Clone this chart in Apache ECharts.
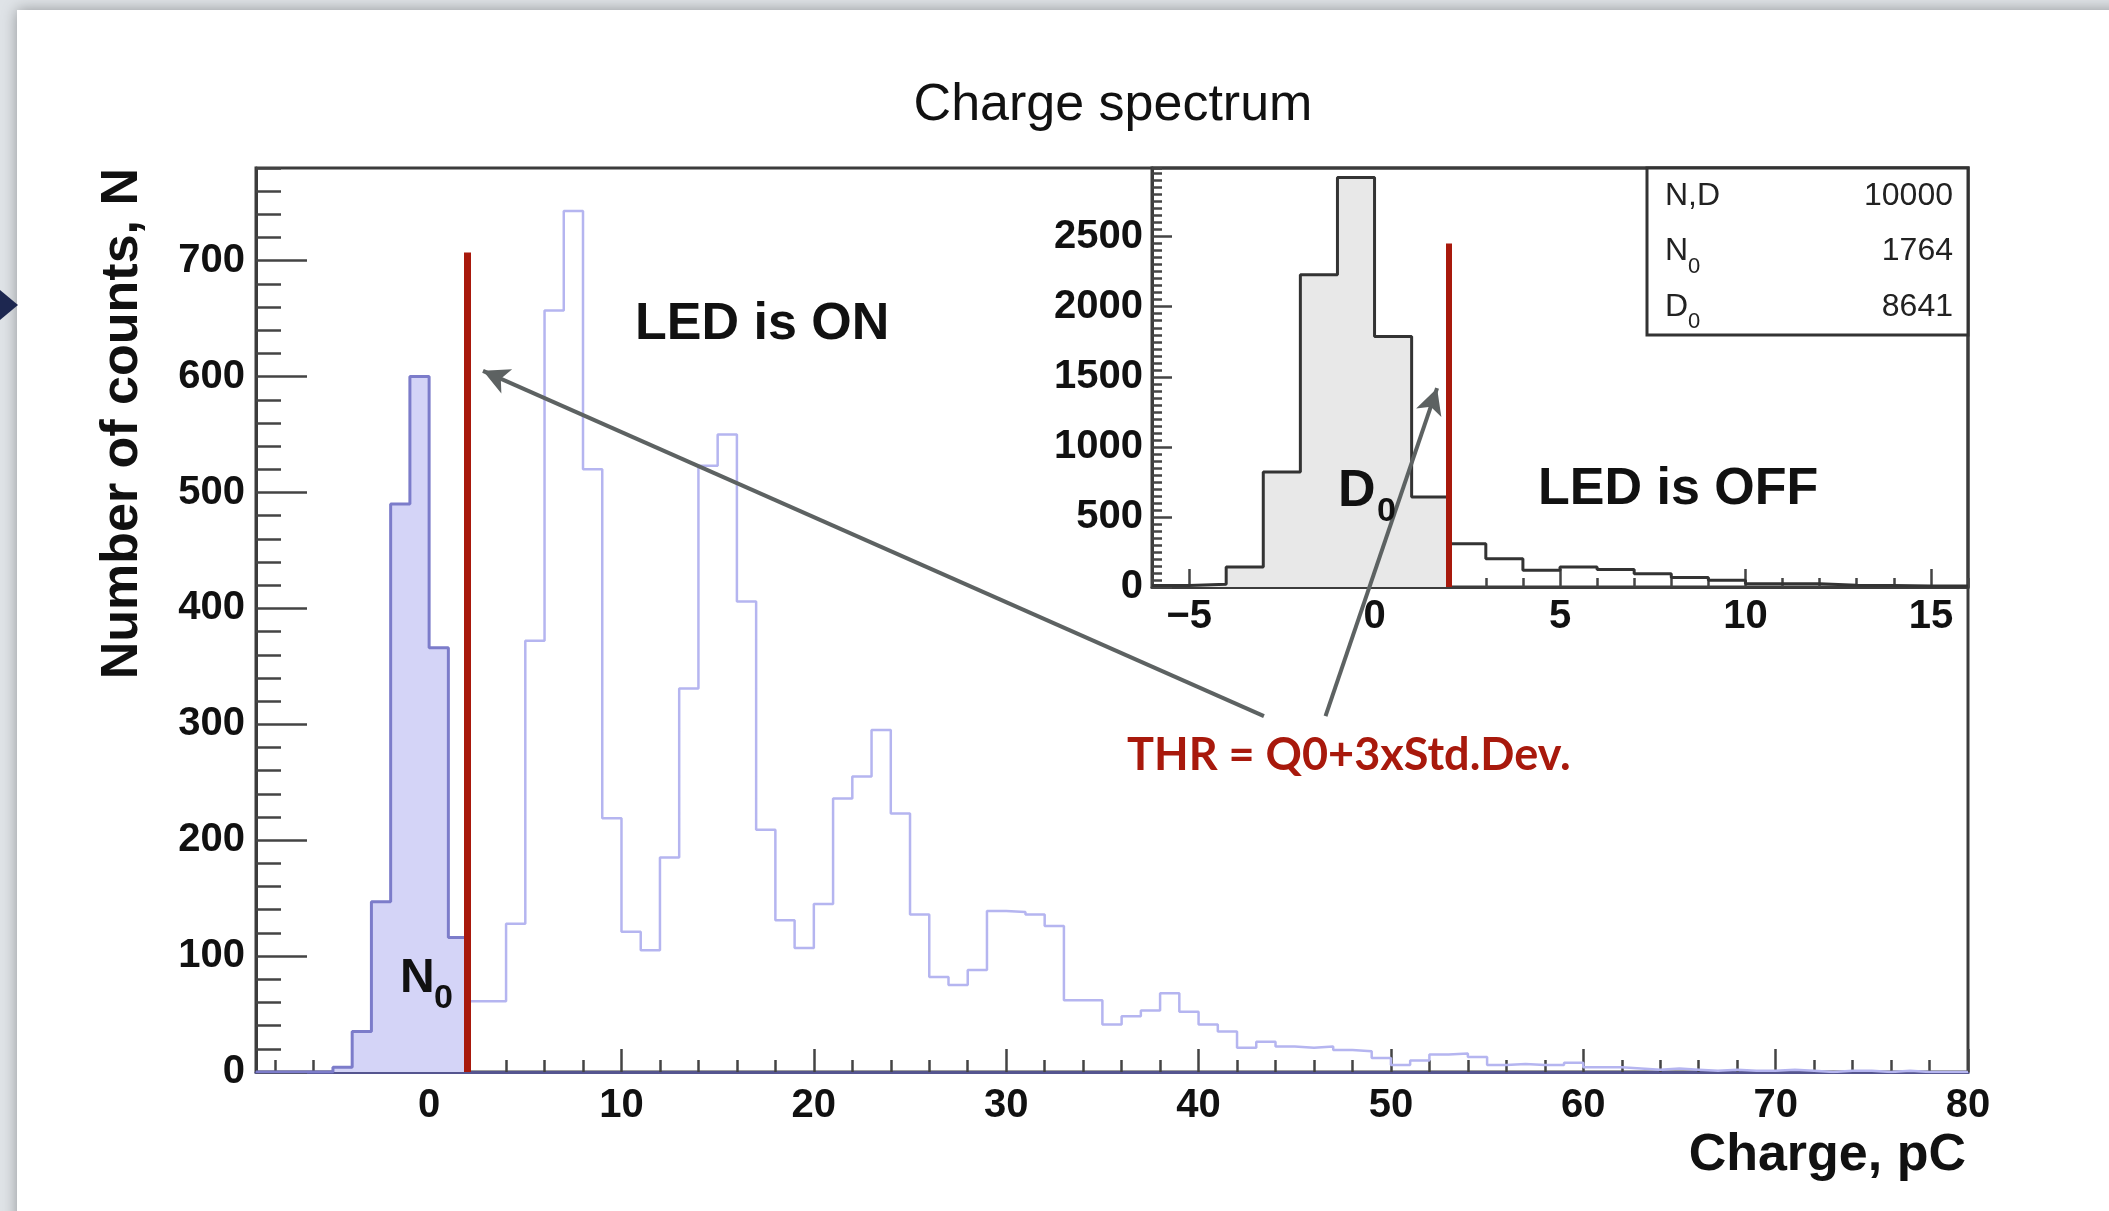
<!DOCTYPE html>
<html>
<head>
    <meta charset="utf-8">
    <title>Charge spectrum</title>
    <script src="https://cdn.jsdelivr.net/npm/echarts@6/dist/echarts.min.js"></script>
    <style>
        body { margin: 0; background: #dfe3e7; }
    </style>
</head>
<body>
    <div id="main" style="width: 2109px;height:1211px;"></div>
    <script type="text/javascript">
        var myChart = echarts.init(document.getElementById('main'));

// LED ON spectrum, 1 pC bins, first bin starts at -9 pC
var onStart = -9;
var onCounts = [
    0, 0, 0, 0, 4, 35, 147, 490, 600, 366, 116,          // -9 .. 1
    61, 61, 128, 372, 657, 743, 520, 219,                // 2 .. 9
    121, 105, 185, 331, 523, 550, 406, 209, 131, 107,    // 10 .. 19
    145, 236, 255, 295, 223, 136, 82, 75, 88, 139,       // 20 .. 29
    138, 136, 126, 62, 62, 41, 48, 53, 68, 52,           // 30 .. 39
    41, 35, 21, 26, 22, 21, 22, 19, 18, 12,              // 40 .. 49
    6, 10, 15, 16, 13, 6, 7, 6, 6, 8,                    // 50 .. 59
    4, 4, 3, 2, 3, 2, 1, 2, 1, 1,                        // 60 .. 69
    2, 1, 0, 1, 1, 0, 1, 0, 0, 0                         // 70 .. 79
];

// LED OFF spectrum (inset), first bin starts at -6 pC
var offStart = -6;
var offCounts = [10, 20, 143, 820, 2229, 2923, 1787, 642, 309, 202, 119,
                 143, 124, 95, 67, 48, 24, 24, 12, 10, 8, 8];

var threshold = 2;        // THR, pC
var thrOnTop = 707;       // height of red line, main plot
var thrOffTop = 2452;     // height of red line, inset

var mainXLabels = [0, 10, 20, 30, 40, 50, 60, 70, 80];
var mainXMinor = [-8, -6, -4, -2, 0, 2, 4, 6, 8, 10, 12, 14, 16, 18, 20, 22, 24, 26, 28, 30,
                  32, 34, 36, 38, 40, 42, 44, 46, 48, 50, 52, 54, 56, 58, 60, 62, 64, 66, 68, 70,
                  72, 74, 76, 78, 80];
var mainYLabels = [0, 100, 200, 300, 400, 500, 600, 700];
var insetXLabels = [-5, 0, 5, 10, 15];
var insetYLabels = [0, 500, 1000, 1500, 2000, 2500];

var statNames = ['N,D', 'N', 'D'];
var statSubs = ['', '0', '0'];
var statValues = ['10000', '1764', '8641'];

// arrows from the THR note, in main plot coordinates [x, y]
var arrowTails = [[43.4, 307], [46.6, 307]];
var arrowHeads = [[2.8, 605], [52.4, 590]];

function steps(start, counts) {
    var d = counts.map(function (v, i) { return [start + i, v]; });
    d.push([start + counts.length, counts[counts.length - 1]]);
    return d;
}

var onFill = steps(onStart, onCounts.slice(0, threshold - onStart));
var onRest = steps(threshold, onCounts.slice(threshold - onStart));
var offFill = steps(offStart, offCounts.slice(0, threshold - offStart));
var offRest = steps(threshold, offCounts.slice(threshold - offStart));

var font = "'Liberation Sans', Arial, sans-serif";
var red = '#a8190c';
var frame = '#3c3c3c';

function minus(v) { return String(v).replace('-', '\u2212'); }

function majorAxis(extra) {
    var a = {
        type: 'value',
        splitLine: { show: false },
        axisLine: { show: true, onZero: false, lineStyle: { color: frame, width: 3 } },
        axisTick: { show: true, inside: true, lineStyle: { color: '#444', width: 2.5 } },
        axisLabel: {
            color: '#111', fontFamily: font, fontWeight: 'bold', fontSize: 40,
            showMaxLabel: true, formatter: minus
        }
    };
    return echarts.util.merge(a, extra, true);
}

function minorAxis(extra) {
    var a = {
        type: 'value',
        splitLine: { show: false },
        axisLine: { show: false, onZero: false },
        axisLabel: { show: false },
        axisTick: { show: true, inside: true, lineStyle: { color: '#444', width: 2.5 } }
    };
    return echarts.util.merge(a, extra, true);
}

var texts = [
    { x: 1113, y: 106, text: 'Charge spectrum', size: 52, weight: 'normal', align: 'center' },
    { x: 635, y: 325, text: 'LED is ON', size: 52, weight: 'bold', align: 'left' },
    { x: 1538, y: 490, text: 'LED is OFF', size: 52, weight: 'bold', align: 'left' },
    { x: 1338, y: 492, text: 'D', size: 52, weight: 'bold', align: 'left' },
    { x: 1377, y: 512, text: '0', size: 34, weight: 'bold', align: 'left' },
    { x: 400, y: 979, text: 'N', size: 48, weight: 'bold', align: 'left' },
    { x: 434, y: 999, text: '0', size: 34, weight: 'bold', align: 'left' },
    { x: 1966, y: 1156, text: 'Charge, pC', size: 52, weight: 'bold', align: 'right' }
];

var graphics = [
    { type: 'rect', z: -10, shape: { x: 17, y: 10, width: 2120, height: 1230 },
      style: { fill: '#fff', shadowBlur: 14, shadowColor: 'rgba(0,0,0,0.35)' } },
    { type: 'polygon', shape: { points: [[0, 290], [18, 305], [0, 320]] }, style: { fill: '#1d2750' } },
    { type: 'text', x: 123, y: 168, rotation: Math.PI / 2,
      style: { text: 'Number of counts, N', font: 'bold 52px ' + font, fill: '#111',
               align: 'right', verticalAlign: 'middle' } },
    { type: 'text', x: 1127, y: 755,
      style: { text: 'THR = Q0+3xStd.Dev.', font: "bold 45px Lato, 'Open Sans', sans-serif",
               fill: red, align: 'left', verticalAlign: 'middle' } },
    { type: 'rect', z: 10, shape: { x: 1647, y: 168, width: 321, height: 167 },
      style: { fill: '#fff', stroke: '#333', lineWidth: 3 } }
];

texts.forEach(function (t) {
    graphics.push({ type: 'text', x: t.x, y: t.y, z: 11,
        style: { text: t.text, font: t.weight + ' ' + t.size + 'px ' + font, fill: '#111',
                 align: t.align, verticalAlign: 'middle' } });
});

statNames.forEach(function (name, i) {
    var y = 196 + i * 55.5;
    graphics.push({ type: 'text', x: 1665, y: y, z: 11,
        style: { text: name, font: '32px ' + font, fill: '#222', verticalAlign: 'middle' } });
    if (statSubs[i]) {
        graphics.push({ type: 'text', x: 1688, y: y + 15, z: 11,
            style: { text: statSubs[i], font: '22px ' + font, fill: '#222', verticalAlign: 'middle' } });
    }
    graphics.push({ type: 'text', x: 1953, y: y, z: 11,
        style: { text: statValues[i], font: '32px ' + font, fill: '#222',
                 align: 'right', verticalAlign: 'middle' } });
});

        option = {
    backgroundColor: '#dfe3e7',
    animation: false,
    grid: [{
        left: 256, top: 168, width: 1712, height: 904,
        show: true, borderColor: frame, borderWidth: 3
    }, {
        left: 1152, top: 168, width: 816, height: 419,
        show: true, borderColor: frame, borderWidth: 3
    }],
    xAxis: [
        majorAxis({ gridIndex: 0, position: 'bottom', min: onStart, max: 80,
            axisLine: { lineStyle: { color: '#55558f' } },
            axisTick: { customValues: mainXLabels, length: 23 },
            axisLabel: { customValues: mainXLabels, margin: 14 } }),
        minorAxis({ gridIndex: 0, position: 'bottom', min: onStart, max: 80,
            axisTick: { customValues: mainXMinor, length: 12 } }),
        majorAxis({ gridIndex: 1, position: 'bottom', min: offStart, max: 16,
            axisTick: { customValues: insetXLabels, length: 18 },
            axisLabel: { customValues: insetXLabels, margin: 10 } }),
        minorAxis({ gridIndex: 1, position: 'bottom', min: offStart, max: 16, interval: 1,
            axisTick: { length: 9 } })
    ],
    yAxis: [
        majorAxis({ gridIndex: 0, position: 'left', min: 0, max: 780,
            axisTick: { customValues: mainYLabels, length: 51 },
            axisLabel: { customValues: mainYLabels, margin: 11 } }),
        minorAxis({ gridIndex: 0, position: 'left', min: 0, max: 780, interval: 20,
            axisTick: { length: 25 } }),
        majorAxis({ gridIndex: 1, position: 'left', min: 0, max: 2990,
            axisTick: { customValues: insetYLabels, length: 20 },
            axisLabel: { customValues: insetYLabels, margin: 9 } }),
        minorAxis({ gridIndex: 1, position: 'left', min: 0, max: 2990, interval: 50,
            axisTick: { length: 10 } })
    ],
    series: [{
        type: 'line', step: 'end', xAxisIndex: 0, yAxisIndex: 0,
        symbol: 'none', data: onFill,
        lineStyle: { color: '#7c7cca', width: 3 },
        areaStyle: { color: '#d4d4f7', opacity: 1 }
    }, {
        type: 'line', step: 'end', xAxisIndex: 0, yAxisIndex: 0,
        symbol: 'none', data: onRest,
        lineStyle: { color: '#b5b5f0', width: 2.5 },
        markLine: {
            silent: true, symbol: 'none', label: { show: false },
            lineStyle: { color: red, width: 7, type: 'solid' },
            data: [[{ coord: [threshold, 0] }, { coord: [threshold, thrOnTop] }]]
        }
    }, {
        type: 'line', step: 'end', xAxisIndex: 2, yAxisIndex: 2,
        symbol: 'none', data: offFill,
        lineStyle: { color: '#333', width: 3 },
        areaStyle: { color: '#e8e8e8', opacity: 1 }
    }, {
        type: 'line', step: 'end', xAxisIndex: 2, yAxisIndex: 2,
        symbol: 'none', data: offRest,
        lineStyle: { color: '#333', width: 3 },
        markLine: {
            silent: true, symbol: 'none', label: { show: false },
            lineStyle: { color: red, width: 6, type: 'solid' },
            data: [[{ coord: [threshold, 0] }, { coord: [threshold, thrOffTop] }]]
        }
    }, {
        type: 'line', xAxisIndex: 0, yAxisIndex: 0, z: 10, data: [],
        markLine: {
            silent: true, symbol: ['none', 'arrow'], symbolSize: [20, 26],
            label: { show: false },
            lineStyle: { color: '#5d6262', width: 4, type: 'solid' },
            data: arrowTails.map(function (t, i) {
                return [{ coord: t }, { coord: arrowHeads[i] }];
            })
        }
    }],
    graphic: graphics
};

        // use configuration item and data specified to show chart
        myChart.setOption(option);
    </script>
</body>
</html>
